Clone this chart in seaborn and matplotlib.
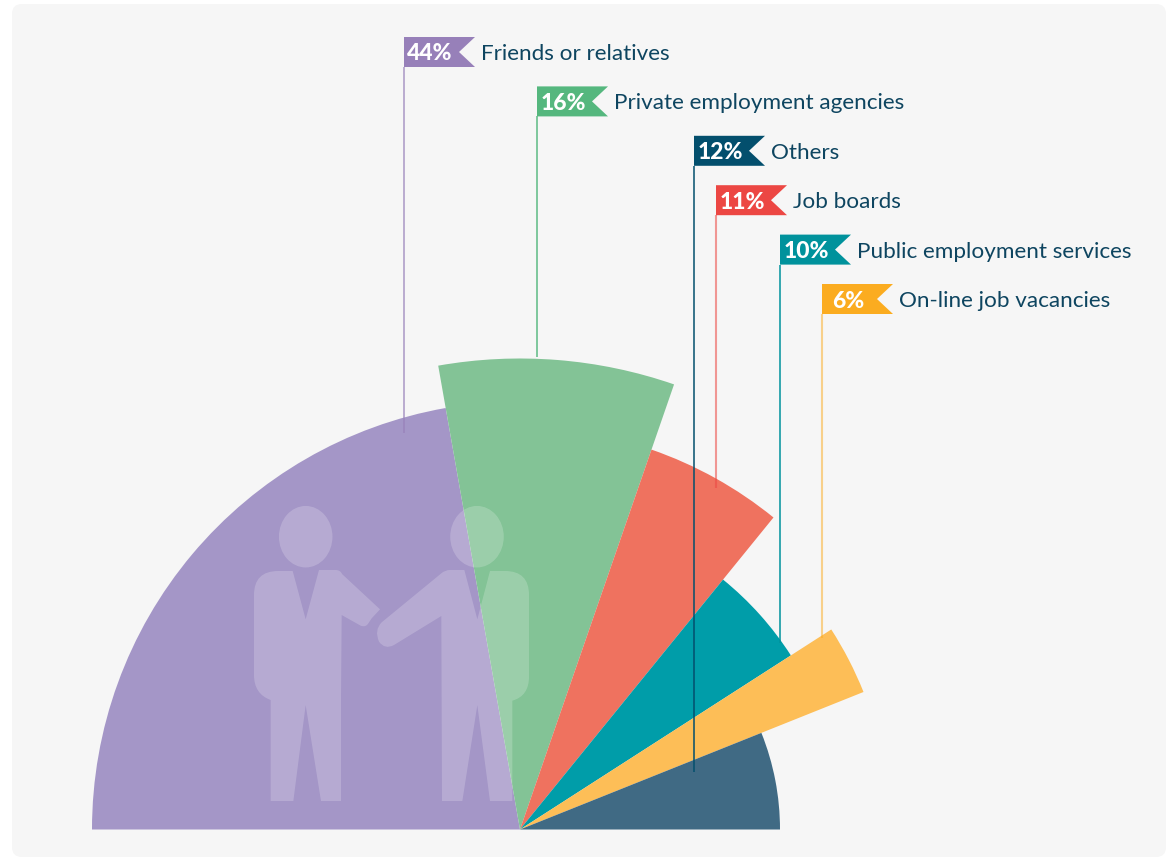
import numpy as np
import matplotlib
matplotlib.use("Agg")
import matplotlib.pyplot as plt
from matplotlib.patches import FancyBboxPatch, Ellipse, PathPatch, Polygon
from matplotlib.path import Path
import seaborn as sns

# Recruitment channels, largest first
channels = ["Friends or relatives", "Private employment agencies", "Others",
            "Job boards", "Public employment services", "On-line job vacancies"]
shares = [44, 16, 12, 11, 10, 6]

# Order of the fan from left to right, and how far each sector reaches
fan_order = ["Friends or relatives", "Private employment agencies", "Job boards",
             "Public employment services", "On-line job vacancies", "Others"]
sector_reach = [428, 471, 402, 322, 370, 260]

sector_colors = ["#A496C7", "#83C396", "#EF725F", "#009DA9", "#FDBE57", "#406A84"]
flag_colors = ["#9780B9", "#55B77E", "#034F6D", "#EC4743", "#00929C", "#FBAC20"]
leader_alpha = [0.8, 0.95, 1.0, 0.55, 1.0, 0.5]
leader_width = [1.1, 1.1, 1.1, 1.5, 1.1, 1.5]
flag_left = [404, 537, 694, 716, 780, 822]
leader_end = [433, 357, 772, 488, 643, 638]

TEXT = "#0E4560"
W, H = 1173, 858
CX, CY = 520, 829.5
RMAX = 500

sns.set_theme(style="white")
plt.rcParams["font.family"] = ["Lato", "DejaVu Sans"]

fig = plt.figure(figsize=(W / 100, H / 100), dpi=100, facecolor="white")

# Rounded backing panel
base = fig.add_axes([0, 0, 1, 1], zorder=0)
base.set_xlim(0, W)
base.set_ylim(H, 0)
base.axis("off")
base.add_patch(FancyBboxPatch((12, 4), 1154, 853,
                              boxstyle="round,pad=0,rounding_size=10",
                              fc="#F6F6F6", ec="none"))

# Half-circle fan: the angle of each sector follows its share
polar = fig.add_axes([(CX - RMAX) / W, (H - CY - RMAX) / H, 2 * RMAX / W, 2 * RMAX / H],
                     projection="polar", zorder=1)
polar.patch.set_alpha(0)
polar.set_ylim(0, RMAX)
polar.axis("off")
share_of = dict(zip(channels, shares))
fan_shares = np.array([share_of[c] for c in fan_order], dtype=float)
spans = fan_shares / fan_shares.sum() * np.pi
starts = np.pi - np.cumsum(spans)
polar.bar(starts, sector_reach, width=spans, align="edge",
          color=sns.color_palette(sector_colors), linewidth=0)

# Overlay for the silhouettes, leaders and flags
top = fig.add_axes([0, 0, 1, 1], zorder=2)
top.patch.set_alpha(0)
top.set_xlim(0, W)
top.set_ylim(H, 0)
top.axis("off")


def outline(cmds):
    verts, codes = [], []
    for code, pts in cmds:
        for p in pts:
            verts.append((230 + p[0] / 3, 490 + p[1] / 3))
            codes.append(code)
    verts.append(verts[0])
    codes.append(Path.CLOSEPOLY)
    return Path(verts, codes)


M, L, Q = Path.MOVETO, Path.LINETO, Path.CURVE3
left_person = outline([
    (M, [(188, 243)]), (L, [(227, 388), (267, 240), (318, 240)]),
    (Q, [(332, 241), (336, 252)]), (L, [(450, 358), (425, 385), (415, 400)]),
    (Q, [(407, 413), (392, 407)]), (L, [(335, 375), (333, 628), (333, 933), (273, 933),
                                        (227, 645), (190, 933), (122, 933), (122, 630)]),
    (Q, [(72, 612), (72, 555)]), (L, [(72, 315)]), (Q, [(72, 243), (145, 243)]),
])
right_person = outline([
    (M, [(703, 240)]), (L, [(742, 388), (780, 243), (825, 243)]),
    (Q, [(897, 243), (897, 315)]), (L, [(897, 560)]), (Q, [(897, 618), (847, 632)]),
    (L, [(847, 933), (780, 933), (742, 645), (697, 933), (636, 933), (634, 378), (492, 465)]),
    (Q, [(465, 480), (447, 455)]), (Q, [(432, 420), (455, 397)]),
    (L, [(634, 250)]), (Q, [(645, 240), (660, 240)]),
])
for shape in (left_person, right_person):
    top.add_patch(PathPatch(shape, fc="white", ec="none", alpha=0.2))
for head_x in (305.7, 477):
    top.add_patch(Ellipse((head_x, 536.7), 53.5, 61.5, fc="white", ec="none", alpha=0.2))

# Flags with percentage and channel name, each tied to its sector by a leader
for i, (name, pct) in enumerate(zip(channels, shares)):
    x = flag_left[i]
    y0 = 37 + i * 49.4
    y1 = y0 + 30
    top.plot([x, x], [y1, leader_end[i]], color=flag_colors[i], alpha=leader_alpha[i],
             lw=leader_width[i], solid_capstyle="butt")
    top.add_patch(Polygon([(x, y0), (x + 71, y0), (x + 55, (y0 + y1) / 2), (x + 71, y1), (x, y1)],
                          closed=True, fc=flag_colors[i], ec="none"))
    top.text(x + 26, (y0 + y1) / 2, f"{pct}%", color="white", fontsize=16.5, weight=900,
             ha="center", va="center_baseline")
    top.text(x + 77, (y0 + y1) / 2, name, color=TEXT, fontsize=16.2,
             ha="left", va="center_baseline")

fig.savefig("out.png", dpi=100, facecolor="white")
